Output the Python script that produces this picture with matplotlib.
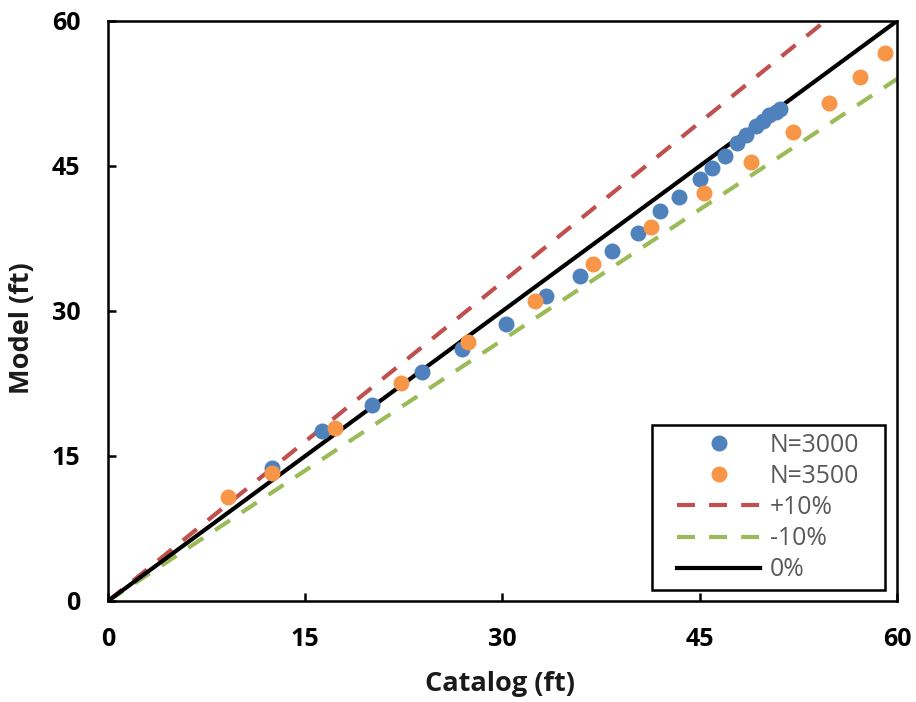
import numpy as np
import matplotlib
matplotlib.use("Agg")
import matplotlib.pyplot as plt
from matplotlib.patches import Rectangle

# Catalog vs model values
catalog_3000 = [12.5, 16.3, 20.1, 23.9, 26.9, 30.3, 33.3, 35.9, 38.3, 40.3,
                42.0, 43.4, 45.0, 45.9, 46.9, 47.8, 48.5, 49.3, 49.8, 50.3,
                50.8, 51.1]
model_3000 = [13.8, 17.6, 20.3, 23.7, 26.1, 28.7, 31.6, 33.6, 36.2, 38.1,
              40.3, 41.8, 43.7, 44.8, 46.0, 47.4, 48.2, 49.1, 49.7, 50.3,
              50.6, 50.9]

catalog_3500 = [9.1, 12.5, 17.3, 22.3, 27.4, 32.5, 36.9, 41.3, 45.3, 48.9,
                52.1, 54.8, 57.2, 59.1]
model_3500 = [10.8, 13.2, 17.9, 22.6, 26.8, 31.0, 34.9, 38.7, 42.2, 45.4,
              48.5, 51.5, 54.2, 56.7]

ref_x = [0, 60]
ticks = [0, 15, 30, 45, 60]

blue = "#4F81BD"
orange = "#F79646"
red = "#C0504D"
green = "#9BBB59"

fig = plt.figure(figsize=(9.16, 7.02), dpi=100)
ax = fig.add_axes([0.1179, 0.1439, 0.8613, 0.8262])

ax.plot(catalog_3000, model_3000, "o", color=blue, markersize=11.5,
        markeredgewidth=0, label="N=3000", zorder=4)
ax.plot(catalog_3500, model_3500, "o", color=orange, markersize=11.5,
        markeredgewidth=0, label="N=3500", zorder=5)

x = np.array(ref_x, dtype=float)
ax.plot(x, 1.1 * x, color=red, lw=3, dashes=(4.3, 3.4), label="+10%", zorder=2)
ax.plot(x, 0.9 * x, color=green, lw=3, dashes=(4.3, 3.4), label="-10%", zorder=2)
ax.plot(x, x, color="black", lw=3, label="0%", zorder=3)

ax.set_xlim(0, 60)
ax.set_ylim(0, 60)
ax.set_xticks(ticks)
ax.set_yticks(ticks)

for s in ax.spines.values():
    s.set_linewidth(1.8)

ax.tick_params(direction="in", length=6, width=1.8, labelsize=18)
ax.tick_params(axis="x", pad=19)
ax.tick_params(axis="y", pad=20)
for lab in ax.get_xticklabels() + ax.get_yticklabels():
    lab.set_fontweight("bold")
    lab.set_family("Open Sans")

ax.set_xlabel("Catalog (ft)", fontsize=19.5, fontweight="bold",
              family="Open Sans", color="#1a1a1a")
ax.set_ylabel("Model (ft)", fontsize=19.5, fontweight="bold",
              family="Open Sans", color="#1a1a1a")
ax.xaxis.label.set_va("center")
ax.yaxis.label.set_va("center")
ax.xaxis.set_label_coords(0.497, -0.143)
ax.yaxis.set_label_coords(-0.109, 0.47)

# legend frame drawn separately so the padding matches the original
box = Rectangle((0.689, 0.019), 0.296, 0.284, transform=ax.transAxes,
                facecolor="white", edgecolor="black", linewidth=1.8,
                zorder=6)
ax.add_patch(box)

leg = ax.legend(loc="center", bbox_to_anchor=(0.837, 0.161),
                frameon=False, handlelength=3.35, handletextpad=0.4,
                labelspacing=0.25, borderpad=0,
                prop={"family": "Open Sans", "size": 17.8},
                labelcolor="#595959")
leg.set_zorder(7)

fig.savefig("out.png", dpi=100)
